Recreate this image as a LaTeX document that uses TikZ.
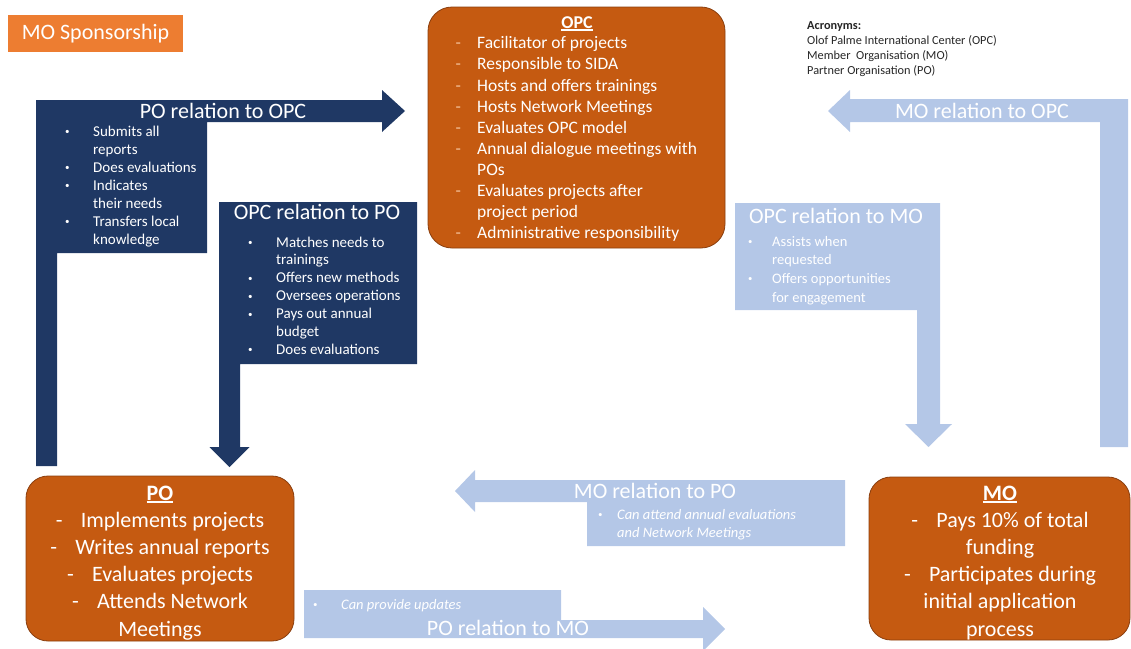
\documentclass[tikz,border=0pt]{standalone}
\usepackage{fontspec}
\usepackage{graphicx}
\setmainfont{Carlito}
\definecolor{navy}{HTML}{1F3864}
\definecolor{lblue}{HTML}{B4C7E7}
\definecolor{dorange}{HTML}{C55A11}
\definecolor{borange}{HTML}{ED7D31}
\definecolor{obord}{HTML}{8A3E0E}
\definecolor{peach}{HTML}{F4C29C}
\newcommand\bul{\raisebox{0.1em}{\scalebox{0.6}{\textbullet}}}
\newcommand\bl[2]{\makebox[#1][l]{\bul}#2}
\newcommand\cl[2]{\hspace*{#1}#2}
\newcommand\dsh[1]{\makebox[25pt][l]{-}#1}
\newcommand\ulin[1]{\setbox0\hbox{#1}\rlap{\rule[-2.6pt]{\wd0}{1.3pt}}\box0}
\tikzset{
  ttl/.style={text=white, font=\fontsize{22}{26}\selectfont, inner sep=0pt},
  lst/.style={text=white, font=\fontsize{15}{18}\selectfont, inner sep=0pt, anchor=base west},
  obox/.style={draw=obord, line width=0.8pt, fill=dorange, rounded corners=24pt, inner sep=0pt},
  otxt/.style={text=white, font=\fontsize{22}{27.2}\selectfont, inner sep=0pt, anchor=base},
}
\begin{document}
\begin{tikzpicture}[x=1pt,y=-1pt]
\useasboundingbox (0,0) rectangle (1131,648);

% MO Sponsorship
\node[fill=borange, text=white, font=\fontsize{22}{26}\selectfont, minimum width=175pt, minimum height=37pt, inner sep=0pt] (spons) at (95.5,33.5) {MO Sponsorship};

% navy arrow PO -> OPC
\fill[navy] (36,100) -- (382,100) -- (382,90) -- (405,111) -- (382,132) -- (382,122) -- (207,122) -- (207,253) -- (57,253) -- (57,466) -- (36,466) -- cycle;
% navy arrow OPC -> PO
\fill[navy] (219,202) -- (417,202) -- (417,364) -- (240,364) -- (240,447) -- (249.5,447) -- (229.5,467) -- (209.5,447) -- (219,447) -- cycle;
% light arrow MO -> OPC
\fill[lblue] (828,111) -- (850,90) -- (850,99) -- (1128,99) -- (1128,447) -- (1100,447) -- (1100,122) -- (850,122) -- (850,132) -- cycle;
% light arrow OPC -> MO
\fill[lblue] (735,203) -- (940,203) -- (940,424) -- (952,424) -- (928.5,447) -- (905,424) -- (917,424) -- (917,310) -- (735,310) -- cycle;
% light arrow MO -> PO
\fill[lblue] (455,491) -- (475,470) -- (475,480) -- (845,480) -- (845,546) -- (587,546) -- (587,502) -- (475,502) -- (475,512) -- cycle;
% light arrow PO -> MO
\fill[lblue] (304,590) -- (561,590) -- (561,620) -- (703,620) -- (703,607) -- (725,629) -- (703,651) -- (703,638) -- (304,638) -- cycle;

% orange boxes
\node[obox, minimum width=297pt, minimum height=241pt] (opc) at (576.5,127.5) {};
\node[obox, minimum width=268pt, minimum height=165pt, rounded corners=22pt] (po) at (160,558.5) {};
\node[obox, minimum width=261pt, minimum height=163pt, rounded corners=22pt] (mo) at (999.5,558.5) {};

% titles of relation arrows
\node[ttl] (tpoopc) at (223,111) {PO relation to OPC};
\node[ttl] (topcpo) at (317,212) {OPC relation to PO};
\node[ttl] (tmoopc) at (982,111) {MO relation to OPC};
\node[ttl] (topcmo) at (836,216) {OPC relation to MO};
\node[ttl] (tmopo) at (655,491) {MO relation to PO};
\node[ttl] (tpomo) at (508,628) {PO relation to MO};

% lists
\node[lst] (lpoopc) at (65,136) {\begin{tabular}[t]{@{}l@{}}
\bl{28pt}{Submits all}\\ \cl{28pt}{reports}\\ \bl{28pt}{Does evaluations}\\ \bl{28pt}{Indicates}\\ \cl{28pt}{their needs}\\ \bl{28pt}{Transfers local}\\ \cl{28pt}{knowledge}\end{tabular}};
\node[lst, font=\fontsize{15}{17.9}\selectfont] (lopcpo) at (248,247) {\begin{tabular}[t]{@{}l@{}}
\bl{28pt}{Matches needs to}\\ \cl{28pt}{trainings}\\ \bl{28pt}{Offers new methods}\\ \bl{28pt}{Oversees operations}\\ \bl{28pt}{Pays out annual}\\ \cl{28pt}{budget}\\ \bl{28pt}{Does evaluations}\end{tabular}};
\node[lst, font=\fontsize{14.5}{18.7}\selectfont] (lopcmo) at (748,246) {\begin{tabular}[t]{@{}l@{}}
\bl{24pt}{Assists when}\\ \cl{24pt}{requested}\\ \bl{24pt}{Offers opportunities}\\ \cl{24pt}{for engagement}\end{tabular}};
\node[lst, font=\itshape\fontsize{14.5}{18}\selectfont] (lmopo) at (598,519) {\begin{tabular}[t]{@{}l@{}}
\bl{19pt}{Can attend annual evaluations}\\ \cl{19pt}{and Network Meetings}\end{tabular}};
\node[lst, font=\itshape\fontsize{14.5}{18}\selectfont] (lpomo) at (313,609) {\bl{28pt}{Can provide updates}};

% OPC box text
\node[text=white, font=\bfseries\fontsize{18}{21}\selectfont, inner sep=0pt, anchor=base] (opct) at (577,28) {\ulin{OPC}};
\node[lst, font=\fontsize{17.5}{21.1}\selectfont] (opcl) at (455.5,48.8) {\begin{tabular}[t]{@{}l@{}}
\makebox[21.5pt][l]{\textcolor{peach}{-}}Facilitator of projects\\
\makebox[21.5pt][l]{\textcolor{peach}{-}}Responsible to SIDA\\
\makebox[21.5pt][l]{\textcolor{peach}{-}}Hosts and offers trainings\\
\makebox[21.5pt][l]{\textcolor{peach}{-}}Hosts Network Meetings\\
\makebox[21.5pt][l]{\textcolor{peach}{-}}Evaluates OPC model\\
\makebox[21.5pt][l]{\textcolor{peach}{-}}Annual dialogue meetings with\\
\hspace*{21.5pt}POs\\
\makebox[21.5pt][l]{\textcolor{peach}{-}}Evaluates projects after\\
\hspace*{21.5pt}project period\\
\makebox[21.5pt][l]{\textcolor{peach}{-}}Administrative responsibility\end{tabular}};

% PO box text
\node[otxt] (pot) at (160,500) {\begin{tabular}[t]{@{}c@{}}
\textbf{\ulin{PO}}\\ \dsh{Implements projects}\\ \dsh{Writes annual reports}\\ \dsh{Evaluates projects}\\ \dsh{Attends Network}\\ Meetings\end{tabular}};

% MO box text
\node[otxt] (mot) at (1000,500) {\begin{tabular}[t]{@{}c@{}}
\textbf{\ulin{MO}}\\ \dsh{Pays 10\% of total}\\ funding\\ \dsh{Participates during}\\ initial application\\ process\end{tabular}};

% acronyms
\node[anchor=base west, inner sep=0pt, font=\fontsize{12.3}{15.3}\selectfont, text=black!85] (acr) at (807,29) {\begin{tabular}[t]{@{}l@{}}\textbf{Acronyms:}\\Olof Palme International Center (OPC)\\Member~ Organisation (MO)\\Partner Organisation (PO)\end{tabular}};
\end{tikzpicture}
\end{document}
